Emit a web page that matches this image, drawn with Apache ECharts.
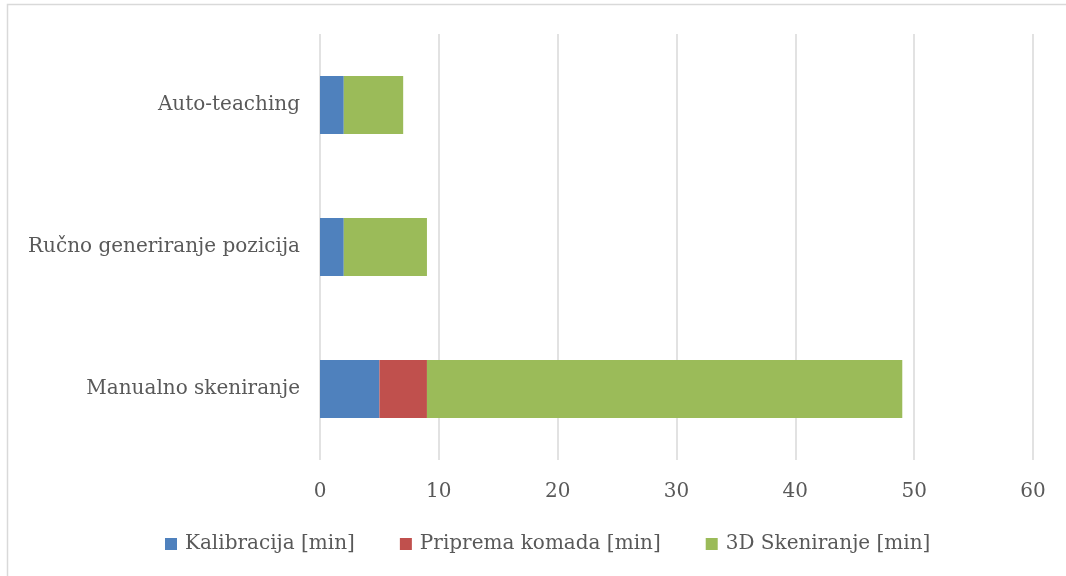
<!DOCTYPE html>
<html>
<head>
<meta charset="utf-8">
<script src="https://cdn.jsdelivr.net/npm/echarts@6/dist/echarts.min.js"></script>
<style>
  html, body { margin: 0; padding: 0; background: #fff; }
  #chart { width: 1066px; height: 576px; }
</style>
</head>
<body>
<div id="chart"></div>
<script>
const categories = ['Manualno skeniranje', 'Ručno generiranje pozicija', 'Auto-teaching']
const kalibracija = [5, 2, 2]
const priprema = [4, 0, 0]
const skeniranje = [40, 7, 5]
const seriesNames = ['Kalibracija [min]', 'Priprema komada [min]', '3D Skeniranje [min]']

const font = '"DejaVu Serif", "Liberation Serif", serif'
const textColor = '#595959'

const chart = echarts.init(document.getElementById('chart'))

chart.setOption({
  animation: false,
  color: ['#4f81bd', '#c0504d', '#9bbb59'],
  graphic: [{
    type: 'rect',
    shape: { x: 7.5, y: 4.5, width: 1070, height: 590 },
    style: { fill: 'none', stroke: '#d9d9d9', lineWidth: 1.5 },
    silent: true
  }],
  grid: { left: 320, right: 33, top: 34, bottom: 116 },
  legend: {
    top: 534,
    left: 165,
    padding: 0,
    itemWidth: 12,
    itemHeight: 12,
    itemGap: 45,
    icon: 'rect',
    textStyle: { color: textColor, fontFamily: font, fontSize: 20, padding: [0, 0, 0, 3] }
  },
  xAxis: {
    type: 'value',
    min: 0,
    max: 60,
    interval: 10,
    axisLine: { show: false },
    axisTick: { show: false },
    axisLabel: { color: textColor, fontFamily: font, fontSize: 20, margin: 22 },
    splitLine: { lineStyle: { color: '#d9d9d9', width: 1.5 } }
  },
  yAxis: {
    type: 'category',
    data: categories,
    axisLine: { show: false },
    axisTick: { show: false },
    axisLabel: { color: textColor, fontFamily: font, fontSize: 20, margin: 20 }
  },
  series: [
    { name: seriesNames[0], type: 'bar', stack: 'total', barWidth: 58, data: kalibracija },
    { name: seriesNames[1], type: 'bar', stack: 'total', barWidth: 58, data: priprema },
    { name: seriesNames[2], type: 'bar', stack: 'total', barWidth: 58, data: skeniranje }
  ]
})
</script>
</body>
</html>
